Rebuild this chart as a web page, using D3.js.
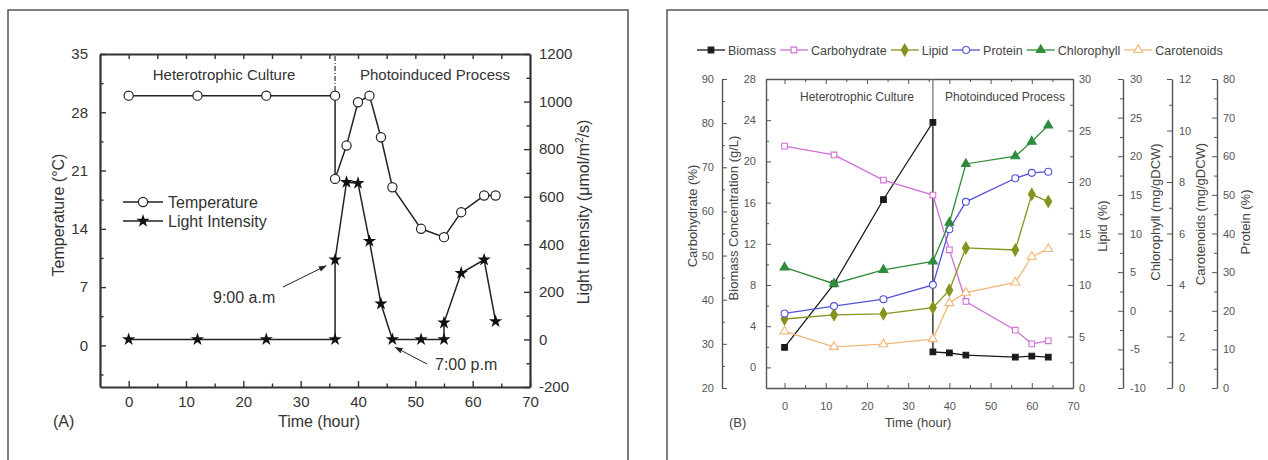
<!DOCTYPE html>
<html><head><meta charset="utf-8">
<script src="https://cdn.jsdelivr.net/npm/d3@7"></script>
<style>
html,body{margin:0;padding:0;background:#fff;}
svg{display:block;font-family:"Liberation Sans",Arial,sans-serif;}
</style></head><body>
<svg id="chart" width="1268" height="460"></svg>
<script>
// ---------- Panel A: culture conditions ----------
const timeTemp = [0, 12, 24, 36, 36, 38, 40, 42, 44, 46, 51, 55, 58, 62, 64];
const temperature = [30, 30, 30, 30, 20, 24, 29.2, 30, 25, 19, 14, 13, 16, 18, 18];
const timeLight = [0, 12, 24, 36, 36, 38, 40, 42, 44, 46, 51, 55, 55, 58, 62, 64];
const lightIntensity = [0, 0, 0, 0, 335, 661, 657, 413, 150, 0, 0, 0, 70, 279, 335, 76];
const tempTicks = [0, 7, 14, 21, 28, 35];
const lightTicks = [-200, 0, 200, 400, 600, 800, 1000, 1200];
const timeTicks = [0, 10, 20, 30, 40, 50, 60, 70];

// ---------- Panel B: biomass and composition ----------
const timeBiomass = [0, 12, 24, 36, 36, 40, 44, 56, 60, 64];
const biomass = [1.95, 8.1, 16.3, 23.8, 1.5, 1.4, 1.2, 1.0, 1.1, 1.0];
const timeB = [0, 12, 24, 36, 40, 44, 56, 60, 64];
const carbohydrate = [74.8, 72.8, 67.1, 63.7, 51.3, 39.6, 33.1, 30.0, 30.7];
const lipid = [6.7, 7.1, 7.2, 7.8, 9.5, 13.6, 13.4, 18.8, 18.1];
const protein = [19.3, 21.2, 23.0, 26.7, 41.1, 48.2, 54.3, 55.7, 56.0];
const chlorophyll = [5.6, 3.5, 5.3, 6.4, 11.4, 19.0, 20.0, 21.9, 24.0];
const carotenoids = [2.2, 1.6, 1.7, 1.9, 3.3, 3.7, 4.1, 5.1, 5.4];
const seriesNames = ["Biomass", "Carbohydrate", "Lipid", "Protein", "Chlorophyll", "Carotenoids"];
const biomassTicks = [0, 4, 8, 12, 16, 20, 24, 28];
const carbTicks = [20, 30, 40, 50, 60, 70, 80, 90];
const lipidTicks = [0, 5, 10, 15, 20, 25, 30];
const chlTicks = [-10, -5, 0, 5, 10, 15, 20, 25, 30];
const carTicks = [0, 2, 4, 6, 8, 10, 12];
const protTicks = [0, 10, 20, 30, 40, 50, 60, 70, 80];

const svg = d3.select("#chart");

// panel frames
svg.append("rect").attr("x", 8).attr("y", 10).attr("width", 620).attr("height", 470)
  .attr("fill", "none").attr("stroke", "#555").attr("stroke-width", 1.5);
svg.append("rect").attr("x", 667).attr("y", 10).attr("width", 640).attr("height", 470)
  .attr("fill", "none").attr("stroke", "#555").attr("stroke-width", 1.5);

const gens = {left: d3.axisLeft, right: d3.axisRight, top: d3.axisTop, bottom: d3.axisBottom};
const range = (a, b, s) => d3.range(a, b + s / 2, s);

// draws one axis with inward major and minor ticks
function drawAxis(parent, orient, scale, pos, majors, minors, o) {
  const tr = (orient === "left" || orient === "right") ? `translate(${pos},0)` : `translate(0,${pos})`;
  if (minors) {
    const gm = parent.append("g").attr("transform", tr);
    gm.call(gens[orient](scale).tickValues(minors).tickFormat("").tickSizeInner(o.minor).tickSizeOuter(0));
    gm.select(".domain").remove();
    gm.selectAll("line").attr("stroke", o.color).attr("stroke-width", o.tickW);
  }
  const g = parent.append("g").attr("transform", tr);
  g.call(gens[orient](scale).tickValues(majors)
    .tickFormat(o.labels ? (d => String(d)) : "")
    .tickSizeInner(o.major).tickSizeOuter(0).tickPadding(o.pad));
  g.select(".domain").attr("stroke", o.color).attr("stroke-width", o.domainW);
  g.selectAll("line").attr("stroke", o.color).attr("stroke-width", o.tickW);
  g.selectAll("text").attr("font-size", o.font).attr("fill", o.textColor)
    .attr("font-family", "Liberation Sans, Arial, sans-serif");
  return g;
}

// ================= Panel A =================
const pA = svg.append("g");
const xA = d3.scaleLinear().domain([-5, 70]).range([100, 530]);
const yT = d3.scaleLinear().domain([-5, 35]).range([387, 54]);
const yL = d3.scaleLinear().domain([-200, 1200]).range([387, 54]);
const styleA = {color: "#333", textColor: "#333", tickW: 1.4, domainW: 2.2, font: 15, major: -6, minor: -3.5, pad: 9, labels: true};

drawAxis(pA, "bottom", xA, 387, timeTicks, range(5, 65, 10), styleA);
drawAxis(pA, "top", xA, 54, range(0, 65, 5), null, Object.assign({}, styleA, {labels: false, major: -5}));
drawAxis(pA, "left", yT, 100, tempTicks, range(-3.5, 31.5, 7), Object.assign({}, styleA, {pad: 12}));
drawAxis(pA, "right", yL, 530, lightTicks, range(-100, 1100, 200), styleA);

// phase separator and labels
pA.append("line").attr("x1", xA(36)).attr("x2", xA(36)).attr("y1", 56).attr("y2", yT(30))
  .attr("stroke", "#333").attr("stroke-width", 1.2).attr("stroke-dasharray", "5,2,1,2");
pA.append("text").attr("x", 224).attr("y", 80).attr("text-anchor", "middle").attr("font-size", 15).attr("fill", "#333").text("Heterotrophic Culture");
pA.append("text").attr("x", 435).attr("y", 80).attr("text-anchor", "middle").attr("font-size", 15).attr("fill", "#333").text("Photoinduced Process");

const lineT = d3.line().x((d, i) => xA(timeTemp[i])).y(d => yT(d));
pA.append("path").datum(temperature).attr("d", lineT).attr("fill", "none").attr("stroke", "#222").attr("stroke-width", 1.5);
const lineL = d3.line().x((d, i) => xA(timeLight[i])).y(d => yL(d));
pA.append("path").datum(lightIntensity).attr("d", lineL).attr("fill", "none").attr("stroke", "#222").attr("stroke-width", 1.5);

pA.selectAll("circle.temp").data(temperature).join("circle").attr("class", "temp")
  .attr("cx", (d, i) => xA(timeTemp[i])).attr("cy", d => yT(d)).attr("r", 4.6)
  .attr("fill", "#fff").attr("stroke", "#222").attr("stroke-width", 1.2);
const star = d3.symbol().type(d3.symbolStar).size(55);
pA.selectAll("path.light").data(lightIntensity).join("path").attr("class", "light")
  .attr("transform", (d, i) => `translate(${xA(timeLight[i])},${yL(d)})`).attr("d", star).attr("fill", "#111");

// legend
const legA = pA.append("g");
legA.append("line").attr("x1", 123).attr("x2", 163).attr("y1", 202).attr("y2", 202).attr("stroke", "#222").attr("stroke-width", 1.5);
legA.append("circle").attr("cx", 143).attr("cy", 202).attr("r", 4.6).attr("fill", "#fff").attr("stroke", "#222").attr("stroke-width", 1.2);
legA.append("text").attr("x", 168).attr("y", 207.5).attr("font-size", 16).attr("fill", "#333").text("Temperature");
legA.append("line").attr("x1", 123).attr("x2", 163).attr("y1", 221).attr("y2", 221).attr("stroke", "#222").attr("stroke-width", 1.5);
legA.append("path").attr("transform", "translate(143,221)").attr("d", star).attr("fill", "#111");
legA.append("text").attr("x", 168).attr("y", 226.5).attr("font-size", 16).attr("fill", "#333").text("Light Intensity");

// annotations with arrows
svg.append("defs").append("marker").attr("id", "arrowHead").attr("viewBox", "0 0 10 10")
  .attr("refX", 9).attr("refY", 5).attr("markerWidth", 8).attr("markerHeight", 8).attr("orient", "auto")
  .attr("markerUnits", "userSpaceOnUse")
  .append("path").attr("d", "M0,1.5 L10,5 L0,8.5 Z").attr("fill", "#222");
pA.append("text").attr("x", 213).attr("y", 303).attr("font-size", 16).attr("fill", "#333").text("9:00 a.m");
pA.append("line").attr("x1", 283).attr("y1", 287).attr("x2", xA(36) - 9).attr("y2", yL(lightIntensity[4]) + 6)
  .attr("stroke", "#222").attr("stroke-width", 1).attr("marker-end", "url(#arrowHead)");
pA.append("text").attr("x", 435).attr("y", 370).attr("font-size", 16).attr("fill", "#333").text("7:00 p.m");
pA.append("line").attr("x1", 427).attr("y1", 364).attr("x2", xA(46) + 3).attr("y2", yL(0) + 8)
  .attr("stroke", "#222").attr("stroke-width", 1).attr("marker-end", "url(#arrowHead)");

// axis titles
pA.append("text").attr("x", 319).attr("y", 427).attr("text-anchor", "middle").attr("font-size", 16).attr("fill", "#333").text("Time (hour)");
pA.append("text").attr("x", 53).attr("y", 427).attr("font-size", 16).attr("fill", "#333").text("(A)");
pA.append("text").attr("transform", "translate(64,215) rotate(-90)").attr("text-anchor", "middle").attr("font-size", 16).attr("fill", "#333")
  .text("Temperature (\u00B0C)");
const tL = pA.append("text").attr("transform", "translate(589,212) rotate(-90)").attr("text-anchor", "middle").attr("font-size", 16).attr("fill", "#333");
tL.append("tspan").text("Light Intensity  (\u03BCmol/m");
tL.append("tspan").attr("font-size", 10).attr("dy", -6).text("2");
tL.append("tspan").attr("dy", 6).text("/s)");

// ================= Panel B =================
const pB = svg.append("g");
const plotTop = 79, plotBot = 388;
const xB = d3.scaleLinear().domain([-4.5, 70]).range([766, 1073]);
const yBio = d3.scaleLinear().domain([-2, 28]).range([plotBot, plotTop]);
const yCarb = d3.scaleLinear().domain([20, 90]).range([plotBot, plotTop]);
const yLip = d3.scaleLinear().domain([0, 30]).range([plotBot, plotTop]);
const yChl = d3.scaleLinear().domain([-10, 30]).range([plotBot, plotTop]);
const yCar = d3.scaleLinear().domain([0, 12]).range([plotBot, plotTop]);
const yProt = d3.scaleLinear().domain([0, 80]).range([plotBot, plotTop]);
const styleB = {color: "#555", textColor: "#555", tickW: 1, domainW: 1.4, font: 11, major: -5, minor: -3, pad: 6, labels: true};

drawAxis(pB, "bottom", xB, plotBot, timeTicks, range(-5, 65, 5).filter(v => v % 10 !== 0 && v > -4.5), Object.assign({}, styleB, {pad: 14}));
drawAxis(pB, "top", xB, plotTop, timeTicks, range(5, 65, 10), Object.assign({}, styleB, {labels: false}));
drawAxis(pB, "left", yBio, 766, biomassTicks, range(-2, 26, 4), Object.assign({}, styleB, {pad: 10}));
drawAxis(pB, "left", yCarb, 722, carbTicks, range(25, 85, 10), Object.assign({}, styleB, {pad: 8}));
drawAxis(pB, "right", yLip, 1073, lipidTicks, range(2.5, 27.5, 5), Object.assign({}, styleB, {pad: 6}));
drawAxis(pB, "right", yChl, 1123, chlTicks, range(-7.5, 27.5, 5), Object.assign({}, styleB, {pad: 7}));
drawAxis(pB, "right", yCar, 1172, carTicks, range(1, 11, 2), Object.assign({}, styleB, {pad: 7}));
drawAxis(pB, "right", yProt, 1217, protTicks, range(5, 75, 10), Object.assign({}, styleB, {pad: 6}));

// phase separator
pB.append("line").attr("x1", xB(36)).attr("x2", xB(36)).attr("y1", plotTop).attr("y2", yBio(biomass[3]))
  .attr("stroke", "#777").attr("stroke-width", 1.3);
pB.append("text").attr("x", 857).attr("y", 101).attr("text-anchor", "middle").attr("font-size", 12).attr("fill", "#444").text("Heterotrophic Culture");
pB.append("text").attr("x", 1005).attr("y", 101).attr("text-anchor", "middle").attr("font-size", 12).attr("fill", "#444").text("Photoinduced Process");

const sq = d3.symbol().type(d3.symbolSquare).size(32);
const tri = d3.symbol().type(d3.symbolTriangle).size(34);
const dia = d3.symbol().type(d3.symbolDiamond).size(40);
const circ = d3.symbol().type(d3.symbolCircle).size(38);

const seriesB = [
  {name: seriesNames[0], t: timeBiomass, v: biomass, y: yBio, color: "#1a1a1a", sym: sq, fill: true},
  {name: seriesNames[1], t: timeB, v: carbohydrate, y: yCarb, color: "#d06fd8", sym: sq, fill: false},
  {name: seriesNames[2], t: timeB, v: lipid, y: yLip, color: "#86931c", sym: dia, fill: true},
  {name: seriesNames[3], t: timeB, v: protein, y: yProt, color: "#5352d6", sym: circ, fill: false},
  {name: seriesNames[4], t: timeB, v: chlorophyll, y: yChl, color: "#2f8c3c", sym: tri, fill: true},
  {name: seriesNames[5], t: timeB, v: carotenoids, y: yCar, color: "#f2b778", sym: tri, fill: false}
];

seriesB.forEach(s => {
  const line = d3.line().x((d, i) => xB(s.t[i])).y(d => s.y(d));
  pB.append("path").datum(s.v).attr("d", line).attr("fill", "none").attr("stroke", s.color).attr("stroke-width", 1.3);
  pB.append("g").selectAll("path").data(s.v).join("path")
    .attr("transform", (d, i) => `translate(${xB(s.t[i])},${s.y(d)})`).attr("d", s.sym)
    .attr("fill", s.fill ? s.color : "#fff").attr("stroke", s.color).attr("stroke-width", 1.1);
});

// legend row
const legB = pB.append("g");
let lx = 697;
seriesB.forEach(s => {
  legB.append("line").attr("x1", lx).attr("x2", lx + 28).attr("y1", 50).attr("y2", 50).attr("stroke", s.color).attr("stroke-width", 1.3);
  legB.append("path").attr("transform", `translate(${lx + 14},50)`).attr("d", s.sym)
    .attr("fill", s.fill ? s.color : "#fff").attr("stroke", s.color).attr("stroke-width", 1.1);
  const t = legB.append("text").attr("x", lx + 31).attr("y", 54.5).attr("font-size", 12.5).attr("fill", "#444").text(s.name);
  lx += 31 + t.node().getComputedTextLength() + 4;
});

// axis titles
const titleB = (x, y, txt) => pB.append("text").attr("transform", `translate(${x},${y}) rotate(-90)`)
  .attr("text-anchor", "middle").attr("font-size", 13).attr("fill", "#444").text(txt);
titleB(697, 216, "Carbohydrate (%)");
titleB(738, 218, "Biomass Concentration (g/L)");
titleB(1107, 226, "Lipid (%)");
titleB(1160, 212, "Chlorophyll (mg/gDCW)");
titleB(1205, 214, "Carotenoids (mg/gDCW)");
titleB(1250, 222, "Protein (%)");
pB.append("text").attr("x", 918).attr("y", 427).attr("text-anchor", "middle").attr("font-size", 13).attr("fill", "#444").text("Time (hour)");
pB.append("text").attr("x", 729).attr("y", 427).attr("font-size", 13).attr("fill", "#444").text("(B)");
</script>
</body></html>
